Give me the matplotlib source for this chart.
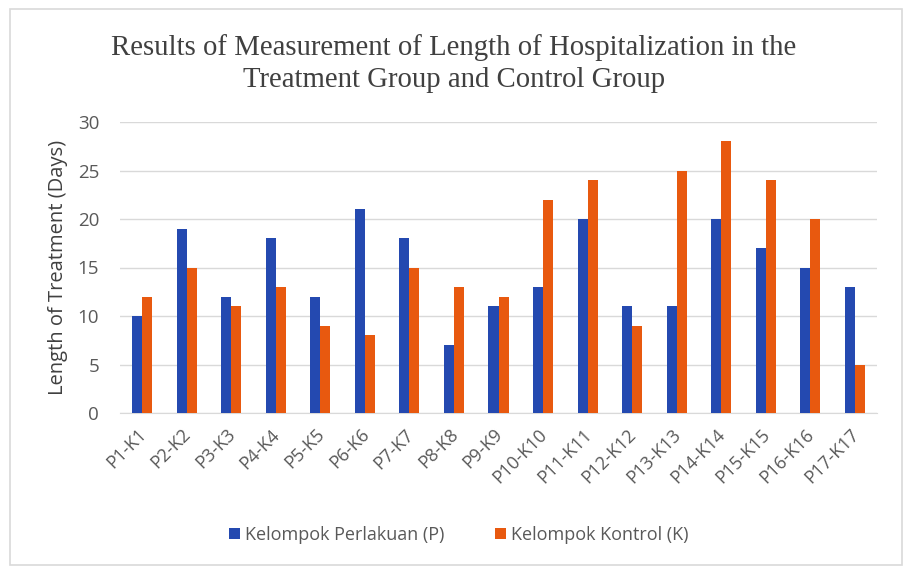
import numpy as np
import matplotlib
matplotlib.use('Agg')
import matplotlib.pyplot as plt
from matplotlib.patches import Rectangle
from matplotlib.transforms import ScaledTranslation

categories = [f"P{i}-K{i}" for i in range(1, 18)]
perlakuan = [10, 19, 12, 18, 12, 21, 18, 7, 11, 13, 20, 11, 11, 20, 17, 15, 13]
kontrol = [12, 15, 11, 13, 9, 8, 15, 13, 12, 22, 24, 9, 25, 28, 24, 20, 5]
y_ticks = [0, 5, 10, 15, 20, 25, 30]

BLUE = '#2449B0'
ORANGE = '#E8590F'
GRAY = '#595959'
SANS = 'Open Sans'

fig = plt.figure(figsize=(9.08, 5.66), dpi=100)
fig.patch.set_facecolor('white')

# outer chart border
fig.patches.append(Rectangle((10 / 908, 1 - 565 / 566), 892 / 908, 556 / 566,
                             transform=fig.transFigure, fill=False,
                             edgecolor='#D9D9D9', linewidth=1.2))

ax = fig.add_axes([120 / 908, 1 - 413 / 566, 757 / 908, 291 / 566])

x = np.arange(len(categories))
w = 0.225
ax.bar(x - w / 2, perlakuan, width=w, color=BLUE, label='Kelompok Perlakuan (P)', zorder=3)
ax.bar(x + w / 2, kontrol, width=w, color=ORANGE, label='Kelompok Kontrol (K)', zorder=3)

ax.set_xlim(-0.5, len(categories) - 0.5)
ax.set_ylim(0, 30)
ax.set_yticks(y_ticks)
ax.yaxis.grid(True, color='#D9D9D9', linewidth=1, zorder=0)
for s in ['top', 'right', 'left']:
    ax.spines[s].set_visible(False)
ax.spines['bottom'].set_color('#D9D9D9')
ax.tick_params(axis='both', length=0, colors=GRAY, labelsize=13.5)
ax.tick_params(axis='y', pad=15)
for lab in ax.get_yticklabels():
    lab.set_fontfamily(SANS)

ax.set_xticks(x)
ax.set_xticklabels(categories, rotation=45, ha='right', va='top',
                   rotation_mode='anchor', fontsize=13, family=SANS, color=GRAY)
ax.tick_params(axis='x', pad=9)
shift = ScaledTranslation(-5 / 100, 0, fig.dpi_scale_trans)
for lab in ax.get_xticklabels():
    lab.set_transform(lab.get_transform() + shift)

ax.set_ylabel('Length of Treatment (Days)', fontsize=14.5, family=SANS, color='#404040', labelpad=7)

fig.text(0.5, 1 - 64 / 566,
         'Results of Measurement of Length of Hospitalization in the\nTreatment Group and Control Group',
         ha='center', va='center', fontsize=20.7, family='Liberation Serif',
         color='#404040', linespacing=1.3)

fig.legend(loc='center', bbox_to_anchor=(459 / 908, 1 - 535 / 566), ncol=2, frameon=False,
           prop={'family': SANS, 'size': 13}, labelcolor=GRAY,
           handlelength=0.6, handleheight=0.6, handletextpad=0.3, columnspacing=2.8)

fig.savefig('out.png', dpi=100)
